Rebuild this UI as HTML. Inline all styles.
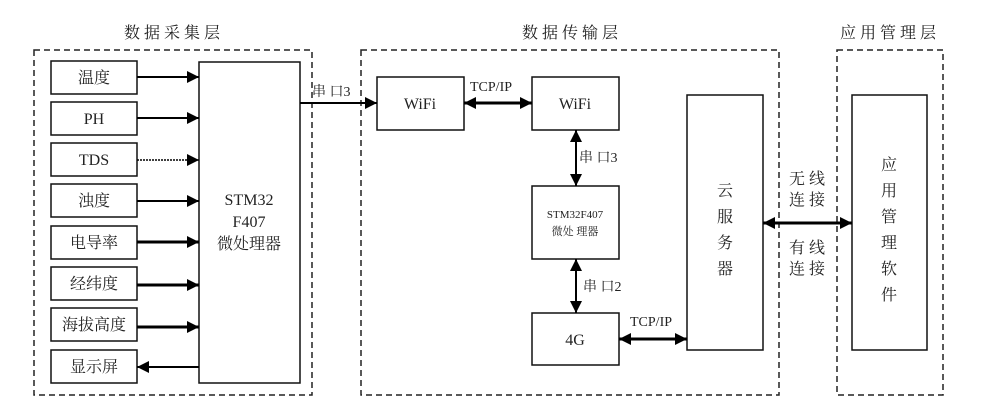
<!DOCTYPE html>
<html><head><meta charset="utf-8"><style>
html,body{margin:0;padding:0;background:#fff;}
svg{display:block;}
text{font-family:"Liberation Serif","Noto Serif CJK SC",serif;fill:#222;}
</style></head><body>
<svg width="994" height="415" viewBox="0 0 994 415" xmlns="http://www.w3.org/2000/svg">
<defs>
<marker id="a" viewBox="0 0 10 10" refX="10" refY="5" markerWidth="5" markerHeight="5" orient="auto-start-reverse" markerUnits="userSpaceOnUse">
<path d="M0,0 L10,5 L0,10 z" fill="#000"/></marker>
<marker id="b" viewBox="0 0 12 12" refX="12" refY="6" markerWidth="12" markerHeight="12" orient="auto-start-reverse" markerUnits="userSpaceOnUse">
<path d="M0,0 L12,6 L0,12 z" fill="#000"/></marker>
</defs>
<g fill="none" stroke="#222" stroke-width="1.5" stroke-dasharray="6,4">
<rect x="34" y="50" width="278" height="345"/>
<rect x="361" y="50" width="418" height="345"/>
<rect x="837" y="50" width="106" height="345"/>
</g>
<g font-size="16" text-anchor="middle">
<text x="172" y="38">数 据 采 集 层</text>
<text x="570" y="38">数 据 传 输 层</text>
<text x="888" y="38">应 用 管 理 层</text>
</g>
<g fill="#fff" stroke="#111" stroke-width="1.5">
<rect x="51" y="61" width="86" height="33"/>
<rect x="51" y="102" width="86" height="33"/>
<rect x="51" y="143" width="86" height="33"/>
<rect x="51" y="184" width="86" height="33"/>
<rect x="51" y="226" width="86" height="33"/>
<rect x="51" y="267" width="86" height="33"/>
<rect x="51" y="308" width="86" height="33"/>
<rect x="51" y="350" width="86" height="33"/>
<rect x="199" y="62" width="101" height="321"/>
<rect x="377" y="77" width="87" height="53"/>
<rect x="532" y="77" width="87" height="53"/>
<rect x="532" y="186" width="87" height="73"/>
<rect x="532" y="313" width="87" height="52"/>
<rect x="687" y="95" width="76" height="255"/>
<rect x="852" y="95" width="75" height="255"/>
</g>
<g font-size="16" text-anchor="middle">
<text x="94" y="83">温度</text>
<text x="94" y="124">PH</text>
<text x="94" y="165">TDS</text>
<text x="94" y="206">浊度</text>
<text x="94" y="248">电导率</text>
<text x="94" y="289">经纬度</text>
<text x="94" y="330">海拔高度</text>
<text x="94" y="372">显示屏</text>
<text x="249" y="205">STM32</text>
<text x="249" y="227">F407</text>
<text x="249" y="249">微处理器</text>
<text x="420" y="109">WiFi</text>
<text x="575" y="109">WiFi</text>
<text x="575" y="345">4G</text>
</g>
<g font-size="11" text-anchor="middle">
<text x="575" y="218">STM32F407</text>
<text x="575" y="235">微处 理器</text>
</g>
<g stroke="#000" stroke-width="2" fill="none">
<line x1="137" y1="77" x2="199" y2="77" marker-end="url(#b)"/>
<line x1="137" y1="118" x2="199" y2="118" marker-end="url(#b)"/>
<line x1="137" y1="160" x2="199" y2="160" stroke-dasharray="2,1" stroke-width="1.5" marker-end="url(#b)"/>
<line x1="137" y1="201" x2="199" y2="201" marker-end="url(#b)"/>
<line x1="137" y1="242" x2="199" y2="242" stroke-width="3" marker-end="url(#b)"/>
<line x1="137" y1="285" x2="199" y2="285" stroke-width="3" marker-end="url(#b)"/>
<line x1="137" y1="327" x2="199" y2="327" stroke-width="3" marker-end="url(#b)"/>
<line x1="199" y1="367" x2="137" y2="367" marker-end="url(#b)"/>
<line x1="300" y1="103" x2="377" y2="103" marker-end="url(#b)"/>
<line x1="464" y1="103" x2="532" y2="103" stroke-width="3" marker-start="url(#b)" marker-end="url(#b)"/>
<line x1="576" y1="130" x2="576" y2="186" marker-start="url(#b)" marker-end="url(#b)"/>
<line x1="576" y1="259" x2="576" y2="313" marker-start="url(#b)" marker-end="url(#b)"/>
<line x1="619" y1="339" x2="687" y2="339" stroke-width="3" marker-start="url(#b)" marker-end="url(#b)"/>
<line x1="763" y1="223" x2="852" y2="223" stroke-width="3" marker-start="url(#b)" marker-end="url(#b)"/>
</g>
<g font-size="14">
<text x="312" y="96">串 口3</text>
<text x="470" y="91">TCP/IP</text>
<text x="579" y="162">串 口3</text>
<text x="583" y="291">串 口2</text>
<text x="630" y="326">TCP/IP</text>
</g>
<g font-size="16" text-anchor="middle">
<text x="725" y="196">云</text>
<text x="725" y="222">服</text>
<text x="725" y="248">务</text>
<text x="725" y="274">器</text>
<text x="889" y="170">应</text>
<text x="889" y="196">用</text>
<text x="889" y="222">管</text>
<text x="889" y="248">理</text>
<text x="889" y="274">软</text>
<text x="889" y="300">件</text>
<text x="807" y="184">无 线</text>
<text x="807" y="205">连 接</text>
<text x="807" y="253">有 线</text>
<text x="807" y="274">连 接</text>
</g>
</svg>
</body></html>
